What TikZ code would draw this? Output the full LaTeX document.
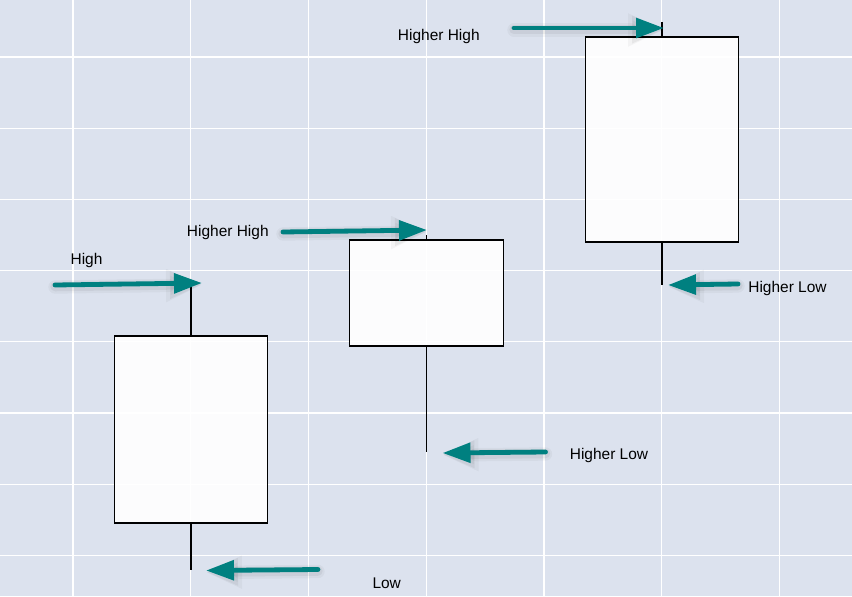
\documentclass[tikz,border=0pt]{standalone}
\usepackage{fontspec}
\setmainfont{Liberation Sans}
\usetikzlibrary{arrows.meta}
\definecolor{chartbg}{RGB}{220,226,238}
\definecolor{arrowteal}{RGB}{0,128,128}

\begin{document}
\begin{tikzpicture}[x=0.75pt,y=-0.75pt,
  gridline/.style={white, line width=1pt},
  candle/.style={draw=black, line width=1.1pt, fill=white, fill opacity=0.92, inner sep=0pt},
  wick/.style={black, line width=1.1pt},
  halo/.style={
    preaction={draw=black, opacity=0.035, line width=10pt, line cap=round,
      -{Triangle[length=27pt,width=23pt]}, transform canvas={yshift=-1.5pt}},
    preaction={draw=black, opacity=0.05, line width=7pt, line cap=round,
      -{Triangle[length=24pt,width=19pt]}, transform canvas={yshift=-1.2pt}}},
  pointer/.style={halo, draw=arrowteal, line width=3.6pt, line cap=round,
      -{Triangle[length=21pt,width=14.5pt]}},
  tag/.style={anchor=base, inner sep=0pt, font=\fontsize{11.6}{14}\selectfont}]
\tikzstyle{every node}+=[inner sep=0pt]
\useasboundingbox (0,0) rectangle (852,596);
\fill [chartbg] (0,0) rectangle (852,596);
% grid
\foreach \gx in {0,...,6}
  \draw [gridline] ({73+117.75*\gx},0) -- ({73+117.75*\gx},596);
\foreach \gy in {0,...,7}
  \draw [gridline] (0,{57+71.2*\gy}) -- (852,{57+71.2*\gy});
% candles
\node [candle, minimum width=114.75pt, minimum height=140.25pt] (body1) at (191,429.5) {};
\node [candle, minimum width=115.5pt, minimum height=79.5pt] (body2) at (426.5,293) {};
\node [candle, minimum width=114.75pt, minimum height=153.75pt] (body3) at (662,139.5) {};
\coordinate (top1) at (191,283);
\coordinate (bot1) at (191,570);
\coordinate (top2) at (426.5,235);
\coordinate (bot2) at (426.5,452);
\coordinate (top3) at (662,21.5);
\coordinate (bot3) at (662,285);
\draw [wick] (body1.north) -- (top1);
\draw [wick] (body1.south) -- (bot1);
\draw [wick] (body2.north) -- (top2);
\draw [wick] (body2.south) -- (bot2);
\draw [wick] (body3.north) -- (top3);
\draw [wick] (body3.south) -- (bot3);
% arrows
\coordinate (hightail) at (55,285);
\coordinate (hightip) at (202,283);
\coordinate (hh2tail) at (283,232);
\coordinate (hh2tip) at (427,230);
\coordinate (hh3tail) at (514,28);
\coordinate (hh3tip) at (664,28);
\coordinate (hl3tail) at (738,284);
\coordinate (hl3tip) at (668,285);
\coordinate (hl2tail) at (545.5,452);
\coordinate (hl2tip) at (442.5,453);
\coordinate (lowtail) at (318,569.5);
\coordinate (lowtip) at (206,570.5);
\draw [pointer] (hightail) -- (hightip);
\draw [pointer] (hh2tail) -- (hh2tip);
\draw [pointer] (hh3tail) -- (hh3tip);
\draw [pointer] (hl3tail) -- (hl3tip);
\draw [pointer] (hl2tail) -- (hl2tip);
\draw [pointer] (lowtail) -- (lowtip);
% labels
\node [tag] (lblhigh) at (86.5,264) {High};
\node [tag] (lblhh2) at (227.8,236) {Higher High};
\node [tag] (lblhh3) at (438.8,40) {Higher High};
\node [tag] (lblhl3) at (787.5,292.7) {Higher Low};
\node [tag] (lblhl2) at (609,459) {Higher Low};
\node [tag] (lbllow) at (386.7,588) {Low};
\end{tikzpicture}
\end{document}
